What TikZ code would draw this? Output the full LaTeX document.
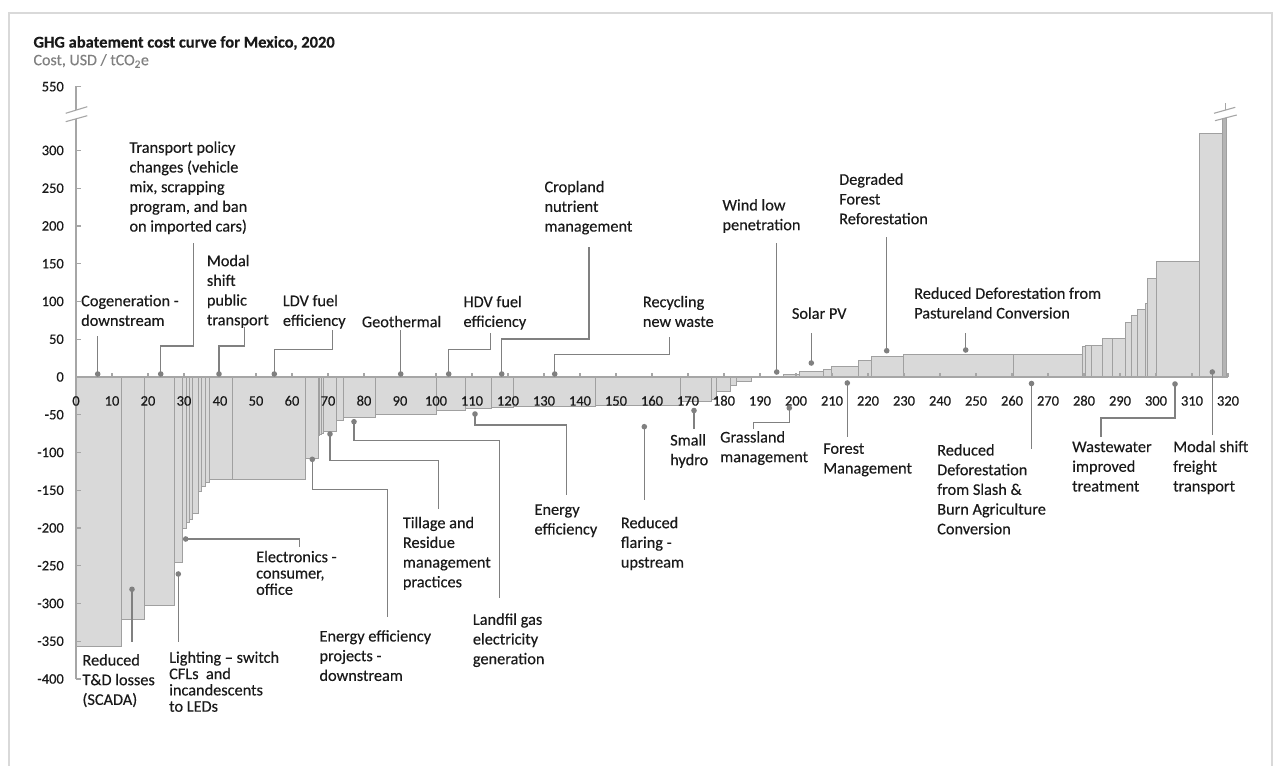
\documentclass[tikz,border=0pt]{standalone}
\usepackage{fontspec}
\setmainfont{Carlito}[FakeBold=0.3]
\definecolor{barfill}{HTML}{D9D9D9}
\definecolor{baredge}{HTML}{A0A0A0}
\definecolor{tallfill}{HTML}{B4B4B4}
\definecolor{leadgray}{HTML}{808080}
\definecolor{axisgray}{HTML}{A6A6A6}
\definecolor{framegray}{HTML}{D9D9D9}
\definecolor{subgray}{HTML}{808080}
\definecolor{textblack}{HTML}{1A1A1A}
\tikzset{
  framestyle/.style={draw=framegray, line width=1.6pt},
  costbar/.style={fill=barfill, draw=baredge, line width=0.7pt},
  axisline/.style={draw=axisgray, line width=1.1pt},
  leader/.style={draw=leadgray, line width=1.3pt},
  dot/.style={circle, fill=leadgray, inner sep=0pt, minimum size=5.6pt},
  lbl/.style={anchor=north west, align=left, inner sep=0pt, text=textblack,
    font=\fontsize{16.3}{19.7}\selectfont},
  lbltight/.style={lbl, font=\fontsize{16.3}{16.3}\selectfont},
  ticklab/.style={inner sep=0pt, text=textblack, font=\fontsize{14.5}{16}\selectfont},
}
\begin{document}
\begin{tikzpicture}[x=1pt,y=-1pt]
\useasboundingbox (0,0) rectangle (1273,765);
\fill[white] (0,0) rectangle (1273,765);

% outer frame
\draw[framestyle] (9,768) -- (9,13) -- (1272,13) -- (1272,768);

% title and unit line
\node[anchor=base west, inner sep=0pt, text=textblack,
  font=\bfseries\fontsize{16.5}{19}\selectfont] (title) at (33.3,47.6)
  {GHG abatement cost curve for Mexico, 2020};
\node[anchor=base west, inner sep=0pt, text=subgray,
  font=\fontsize{16}{18}\selectfont] (unit) at (33.3,65.2)
  {Cost, USD / tCO\textsubscript{2}e};

% cost bars: width in MtCO2e, height in USD/tCO2e
\begin{scope}[shift={(76,377)}, x=3.6pt, y=0.755pt]
\foreach \a/\b/\v in {
  0/12.5/-357, 12.5/18.9/-321, 18.9/27.2/-303, 27.2/29.6/-246,
  29.6/30.7/-200, 30.7/31.5/-193, 31.5/32.3/-188, 32.3/34.0/-180,
  34.0/34.9/-152, 34.9/35.8/-145, 35.8/37.0/-139, 37.0/43.5/-136,
  43.5/63.6/-136, 63.6/67.2/-108, 67.2/67.7/-77, 67.7/68.2/-76,
  68.2/68.6/-75, 68.6/72.2/-72, 72.2/74.2/-57, 74.2/83.1/-54,
  83.1/100.2/-49, 100.2/108.1/-44, 108.1/115.5/-41, 115.5/121.4/-40,
  121.4/144.2/-39, 144.2/167.8/-37, 167.8/176.6/-32, 176.6/178/-30,
  178/181.7/-19, 181.7/183.5/-11, 183.5/187.7/-6,
  187.7/196.4/1.5, 196.4/200.2/3, 200.2/201/4, 201/207.5/7,
  207.5/209.9/9.5, 209.9/217.3/14.6, 217.3/221/21.6, 221/229.8/28,
  229.8/260.4/30.5, 260.4/279.6/30.5, 279.6/280.5/40, 280.5/281.9/42,
  281.9/285.1/42, 285.1/287.9/51, 287.9/291.4/51, 291.4/293.1/72,
  293.1/294.8/82, 294.8/297.1/90, 297.1/297.6/98, 297.6/300.2/131,
  300.2/312/153, 312/318.5/323}
  {\draw[costbar] (\a,0) rectangle (\b,\v);}
\draw[costbar, fill=tallfill] (318.5,0) rectangle (319.6,343);
\end{scope}

% axes
\coordinate (ax-top) at (76,86.7);
\coordinate (ax-brk1) at (76,110.1);
\coordinate (ax-brk2) at (76,118.6);
\coordinate (ax-bot) at (76,679);
\coordinate (ax-0) at (76,377);
\coordinate (ax-end) at (1228,377);
\draw[axisline] (81,86.7) -- (ax-top) -- (ax-brk1);
\draw[axisline] (ax-brk2) -- (ax-bot);
\draw[axisline] (ax-0) -- (ax-end);
% axis breaks
\draw[axisline] (65.7,113.3) -- (87.3,106.7);
\draw[axisline] (65.7,121.7) -- (87.3,115.7);
\draw[axisline] (1214,113.3) -- (1235.3,107.3);
\draw[axisline] (1215,120.7) -- (1236.7,115);
\draw[axisline] (1225.5,103.5) -- (1225.5,110);

% y ticks and labels
\node[ticklab, anchor=base east] (ylab550) at (64,91.3) {550};
\foreach \v in {-400,-350,...,300}{
  \draw[axisline] (76,{377-0.755*\v}) -- (81,{377-0.755*\v});
  \node[ticklab, anchor=base east] (ylab\v) at (64,{377-0.755*\v+4.6}) {\v};
}
% x ticks and labels
\foreach \u in {0,10,...,320}{
  \draw[axisline] ({76+3.6*\u},377) -- ({76+3.6*\u},372.5);
  \node[ticklab, anchor=base] (xlab\u) at ({76+3.6*\u},405.6) {\u};
}

% ---- lever labels above the axis ----
\node[lbl] (t-cogen) at (81,292.2) {\strut Cogeneration -\\downstream};
\node[lbl] (t-trans) at (129.3,138.8) {\strut Transport policy\\changes (vehicle\\mix, scrapping\\program, and ban\\on imported cars)};
\node[lbl] (t-modal) at (206.7,252.2) {\strut Modal\\shift\\public\\transport};
\node[lbl] (t-ldv) at (282.7,292.2) {\strut LDV fuel\\efficiency};
\node[lbl] (t-geo) at (361.7,313.2) {\strut Geothermal};
\node[lbl] (t-hdv) at (463.3,293.2) {\strut HDV fuel\\efficiency};
\node[lbl] (t-crop) at (544.3,178.2) {\strut Cropland\\nutrient\\management};
\node[lbl] (t-recyc) at (642.7,293.2) {\strut Recycling\\new waste};
\node[lbl] (t-wind) at (722.3,196.5) {\strut Wind low\\penetration};
\node[lbl] (t-solar) at (791.7,304.8) {\strut Solar PV};
\node[lbl] (t-degr) at (839,170.8) {\strut Degraded\\Forest\\Reforestation};
\node[lbl] (t-past) at (914,284.8) {\strut Reduced Deforestation from\\Pastureland Conversion};

% ---- lever labels below the axis ----
\node[lbl] (t-td) at (82.3,651.5) {\strut Reduced\\T\&D losses\\(SCADA)};
\node[lbltight] (t-light) at (169,651.2) {\strut Lighting – switch\\CFLs~ and\\incandescents\\to LEDs};
\node[lbltight] (t-elec) at (256,550.6) {\strut Electronics -\\consumer,\\office};
\node[lbl] (t-eeproj) at (319.3,627.5) {\strut Energy efficiency\\projects -\\downstream};
\node[lbl] (t-till) at (402.7,514.2) {\strut Tillage and\\Residue\\management\\practices};
\node[lbl] (t-landf) at (472.7,610.8) {\strut Landfil gas\\electricity\\generation};
\node[lbl] (t-energy) at (534.3,500.8) {\strut Energy\\efficiency};
\node[lbl] (t-flar) at (620.7,514.2) {\strut Reduced\\flaring -\\upstream};
\node[lbl] (t-small) at (670,431.5) {\strut Small\\hydro};
\node[lbl] (t-grass) at (720,428.5) {\strut Grassland\\management};
\node[lbl] (t-forest) at (823,439.8) {\strut Forest\\Management};
\node[lbl] (t-slash) at (937,441.5) {\strut Reduced\\Deforestation\\from Slash \&\\Burn Agriculture\\Conversion};
\node[lbl] (t-waste) at (1072,438.1) {\strut Wastewater\\improved\\treatment};
\node[lbl] (t-freight) at (1173,438.1) {\strut Modal shift\\freight\\transport};

% ---- marker dots ----
\node[dot] (d-cogen) at (97.7,374) {};
\node[dot] (d-trans) at (160.7,374) {};
\node[dot] (d-modal) at (219,374) {};
\node[dot] (d-ldv) at (274.3,374) {};
\node[dot] (d-geo) at (400.7,374) {};
\node[dot] (d-hdv) at (448.7,374) {};
\node[dot] (d-crop) at (501.7,374) {};
\node[dot] (d-recyc) at (554.7,374) {};
\node[dot] (d-wind) at (776.7,372) {};
\node[dot] (d-solar) at (811.3,363) {};
\node[dot] (d-degr) at (886.7,350.7) {};
\node[dot] (d-past) at (965.7,350) {};
\node[dot] (d-td) at (132,589.3) {};
\node[dot] (d-light) at (178.3,574) {};
\node[dot] (d-elec) at (185.7,539) {};
\node[dot] (d-eeproj) at (312.3,459.3) {};
\node[dot] (d-till) at (330,434) {};
\node[dot] (d-landf) at (354,421.7) {};
\node[dot] (d-energy) at (475,414) {};
\node[dot] (d-flar) at (644.3,426.7) {};
\node[dot] (d-small) at (694,410.5) {};
\node[dot] (d-grass) at (789.3,408) {};
\node[dot] (d-forest) at (847.3,383) {};
\node[dot] (d-slash) at (1031.5,383.5) {};
\node[dot] (d-waste) at (1175,384) {};
\node[dot] (d-freight) at (1212.3,372) {};

% ---- leader line ends and bends ----
\coordinate (e-cogen) at (97.7,336);
\coordinate (k-trans) at (193.3,346);   \coordinate (e-trans) at (193.3,242.7);
\coordinate (k-modal) at (244.3,346);   \coordinate (e-modal) at (244.3,326.7);
\coordinate (k-ldv) at (332.7,349.3);   \coordinate (e-ldv) at (332.7,330);
\coordinate (e-geo) at (400.7,330);
\coordinate (k-hdv) at (490.7,349.3);   \coordinate (e-hdv) at (490.7,333.3);
\coordinate (k-crop) at (589,339);      \coordinate (e-crop) at (589,246.7);
\coordinate (k-recyc) at (669.3,354.5); \coordinate (e-recyc) at (669.3,336.7);
\coordinate (e-wind) at (776.7,243.3);
\coordinate (e-solar) at (811.3,333.3);
\coordinate (e-degr) at (886.7,237);
\coordinate (e-past) at (965.7,332.7);
\coordinate (e-td) at (132,641.7);
\coordinate (e-light) at (178.3,641.7);
\coordinate (k-elec) at (299.3,539);    \coordinate (e-elec) at (299.3,546.5);
\coordinate (k-eeproj) at (387.7,489.3);\coordinate (e-eeproj) at (387.7,616.7);
\coordinate (k-till) at (438.3,460.7);  \coordinate (e-till) at (438.3,509.3);
\coordinate (k-landf) at (499.3,440.5); \coordinate (e-landf) at (499.3,598.3);
\coordinate (k-energy) at (566.7,425);  \coordinate (e-energy) at (566.7,495);
\coordinate (e-flar) at (644.3,500);
\coordinate (e-small) at (694,429);
\coordinate (k-grass) at (753.5,422.5); \coordinate (e-grass) at (753.5,429);
\coordinate (e-forest) at (847.3,437);
\coordinate (e-slash) at (1031.5,449);
\coordinate (k-waste) at (1101,418);    \coordinate (e-waste) at (1101,437);
\coordinate (e-freight) at (1212.3,435);

% ---- leader lines ----
\draw[leader] (d-cogen.center) -- (e-cogen);
\draw[leader] (d-trans.center) |- (k-trans) -- (e-trans);
\draw[leader] (d-modal.center) |- (k-modal) -- (e-modal);
\draw[leader] (d-ldv.center) |- (k-ldv) -- (e-ldv);
\draw[leader] (d-geo.center) -- (e-geo);
\draw[leader] (d-hdv.center) |- (k-hdv) -- (e-hdv);
\draw[leader] (d-crop.center) |- (k-crop) -- (e-crop);
\draw[leader] (d-recyc.center) |- (k-recyc) -- (e-recyc);
\draw[leader] (d-wind.center) -- (e-wind);
\draw[leader] (d-solar.center) -- (e-solar);
\draw[leader] (d-degr.center) -- (e-degr);
\draw[leader] (d-past.center) -- (e-past);
\draw[leader] (d-td.center) -- (e-td);
\draw[leader] (d-light.center) -- (e-light);
\draw[leader] (d-elec.center) -- (k-elec) -- (e-elec);
\draw[leader] (d-eeproj.center) |- (k-eeproj) -- (e-eeproj);
\draw[leader] (d-till.center) |- (k-till) -- (e-till);
\draw[leader] (d-landf.center) |- (k-landf) -- (e-landf);
\draw[leader] (d-energy.center) |- (k-energy) -- (e-energy);
\draw[leader] (d-flar.center) -- (e-flar);
\draw[leader] (d-small.center) -- (e-small);
\draw[leader] (d-grass.center) |- (k-grass) -- (e-grass);
\draw[leader] (d-forest.center) -- (e-forest);
\draw[leader] (d-slash.center) -- (e-slash);
\draw[leader] (d-waste.center) |- (k-waste) -- (e-waste);
\draw[leader] (d-freight.center) -- (e-freight);
\end{tikzpicture}
\end{document}
